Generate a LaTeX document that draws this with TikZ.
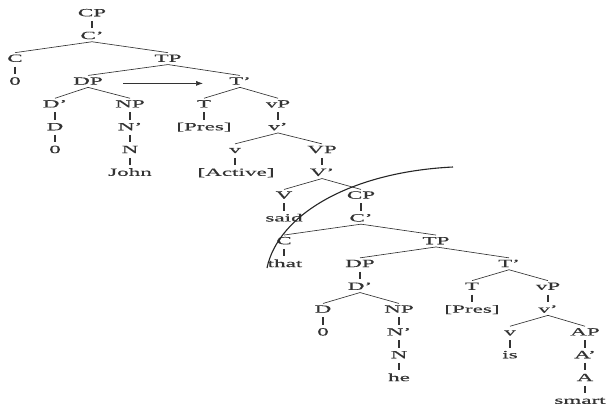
\documentclass[tikz,border=0pt]{standalone}
\usepackage{fontspec}
\setmainfont{Liberation Serif}[FakeStretch=2.1, FakeBold=0.4]
\usetikzlibrary{arrows.meta}
\begin{document}
\begin{tikzpicture}[x=1pt,y=-1pt,
  lab/.style={inner sep=1.5pt, font=\fontsize{11}{12}\selectfont, text=black!80, text height=7.5pt, text depth=1pt},
  br/.style={line width=0.65pt, draw=black!80},
  un/.style={line width=1.3pt, draw=black!80, shorten <=2pt, shorten >=1.5pt}]
\useasboundingbox (0,0) rectangle (607,408);
\fill[white] (0,0) rectangle (607,408);
% upper tree
\node[lab] (cp1) at (92,13) {CP};
\node[lab] (cb1) at (92,35.8) {C'};
\node[lab] (c1) at (15,58.6) {C};
\node[lab] (zero1) at (15,81.4) {0};
\node[lab] (tp1) at (168,58.6) {TP};
\node[lab] (dp1) at (88,81.4) {DP};
\node[lab] (tb1) at (240,81.4) {T'};
\node[lab] (db1) at (55,104.2) {D'};
\node[lab] (d1) at (55,127) {D};
\node[lab] (zero2) at (55,149.8) {0};
\node[lab] (np1) at (130,104.2) {NP};
\node[lab] (nb1) at (130,127) {N'};
\node[lab] (n1) at (130,149.8) {N};
\node[lab] (john) at (130,172.6) {John};
\node[lab] (t1) at (204,104.2) {T};
\node[lab] (pres1) at (204,127) {[Pres]};
\node[lab] (lvp1) at (278,104.2) {vP};
\node[lab] (lvb1) at (278,127) {v'};
\node[lab] (lv1) at (235,149.8) {v};
\node[lab] (active) at (236,172.6) {[Active]};
\node[lab] (bvp1) at (322,149.8) {VP};
\node[lab] (bvb1) at (322,172.6) {V'};
\node[lab] (bv1) at (284,195.4) {V};
\node[lab] (said) at (284,218.2) {said};
\node[lab] (cp2) at (361,195.4) {CP};
\node[lab] (cb2) at (361,218.2) {C'};
\node[lab] (c2) at (284,241) {C};
\node[lab] (that) at (285,263.8) {that};
\node[lab] (tp2) at (436,241) {TP};
\node[lab] (dp2) at (360,263.8) {DP};
\node[lab] (db2) at (360,286.6) {D'};
\node[lab] (d2) at (323,309.4) {D};
\node[lab] (zero3) at (323,332.2) {0};
\node[lab] (np2) at (399,309.4) {NP};
\node[lab] (nb2) at (399,332.2) {N'};
\node[lab] (n2) at (399,355) {N};
\node[lab] (he) at (399,377.8) {he};
\node[lab] (tb2) at (509,263.8) {T'};
\node[lab] (t2) at (472,286.6) {T};
\node[lab] (pres2) at (472,309.4) {[Pres]};
\node[lab] (lvp2) at (548,286.6) {vP};
\node[lab] (lvb2) at (548,309.4) {v'};
\node[lab] (lv2) at (510,332.2) {v};
\node[lab] (is) at (510,355) {is};
\node[lab] (ap) at (585,332.2) {AP};
\node[lab] (ab) at (585,355) {A'};
\node[lab] (a) at (585,377.8) {A};
\node[lab] (smart) at (580,400.6) {smart};
% unary bars (kept vertical under the mother)
\foreach \m/\d in {cp1/cb1, c1/zero1, db1/d1, d1/zero2, np1/nb1, nb1/n1, n1/john,
  t1/pres1, lvp1/lvb1, lv1/active, bvp1/bvb1, bv1/said, cp2/cb2, c2/that,
  dp2/db2, d2/zero3, np2/nb2, nb2/n2, n2/he, t2/pres2, lvp2/lvb2, lv2/is,
  ap/ab, ab/a, a/smart}
  \draw[un] (\m.south) -- (\m.south |- \d.north);
% branches
\foreach \m/\l/\r in {cb1/c1/tp1, tp1/dp1/tb1, dp1/db1/np1, tb1/t1/lvp1,
  lvb1/lv1/bvp1, bvb1/bv1/cp2, cb2/c2/tp2, tp2/dp2/tb2, db2/d2/np2,
  tb2/t2/lvp2, lvb2/lv2/ap}
  \draw[br] (\l.north) -- (\m.south) -- (\r.north);
% movement arrow
\draw[br, -{Latex[length=7pt,width=5pt]}, shorten <=35pt, shorten >=37pt]
  ([yshift=-2pt]dp1.center) -- ([yshift=-2pt]tb1.center);
% arc
\coordinate (arcA) at (267,268);
\coordinate (arcB) at (453,167);
\draw[line width=1.1pt, black!85] (arcA) .. controls (278,215) and (350,172) .. (arcB);
\end{tikzpicture}
\end{document}
